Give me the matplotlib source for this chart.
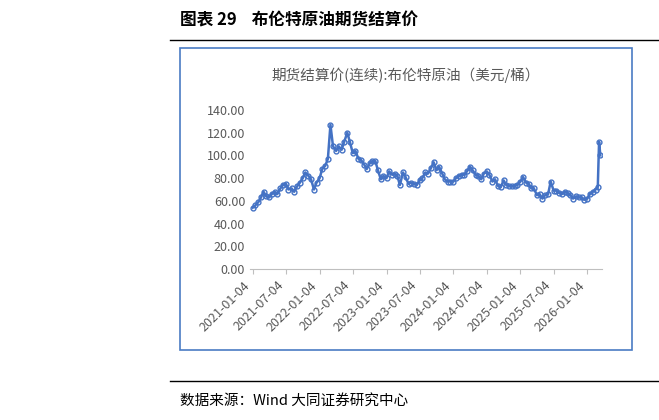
import matplotlib
matplotlib.use("Agg")
import matplotlib.pyplot as plt
import pandas as pd
from matplotlib.patches import Rectangle

plt.rcParams['font.family'] = ['Noto Sans CJK SC', 'DejaVu Sans']

vals = [54,56,59,63,68,64,63,66,68,66,71,74,75,70,71,68,73,76,80,85,82,79,70,76,
        80,88,91,97,127,108,104,108,105,112,120,112,102,104,97,96,92,88,93,95,95,87,79,82,
        80,86,83,84,82,74,85,81,75,76,75,74,78,80,85,84,89,94,87,90,84,79,77,77,
        77,80,82,83,83,86,90,87,83,82,79,84,86,83,77,79,73,72,78,74,73,73,73,74,
        77,81,76,75,71,71,65,66,62,65,66,77,69,69,67,66,68,67,65,62,64,63,63,61,
        62,66,68,70]
base = pd.date_range('2021-01-01', '2026-02-28', freq='SMS') + pd.Timedelta(days=3)
dates = list(base[:len(vals)])
extra_dates = pd.to_datetime(['2026-03-02', '2026-03-09', '2026-03-16'])
extra_vals = [72, 112, 100]
n = min(len(dates), len(vals))
dates = dates[:n] + list(extra_dates)
vals = vals[:n] + extra_vals
yticks = [0, 20, 40, 60, 80, 100, 120, 140]
xticks = pd.date_range('2021-01-01', '2026-01-04', freq='6MS') + pd.Timedelta(days=3)

W, H = 659, 420
fig = plt.figure(figsize=(W/100, H/100), dpi=100)

fig.text(180/W, 1-20/H, '图表 29    布伦特原油期货结算价', fontsize=12, fontweight='bold', va='center')
fig.add_artist(plt.Line2D([170/W, 1], [1-40/H, 1-40/H], color='black', lw=1))
fig.add_artist(plt.Line2D([170/W, 1], [1-381/H, 1-381/H], color='black', lw=1))
fig.text(180/W, 1-401/H, '数据来源：Wind 大同证券研究中心', fontsize=10.5, va='center')
fig.add_artist(Rectangle((180/W, 1-350/H), 452/W, 302/H, fill=False, ec='#4a7cc4', lw=1.2))
fig.text(406/W, 1-75/H, '期货结算价(连续):布伦特原油（美元/桶）', fontsize=10.5, color='#595959', ha='center', va='center')

ax = fig.add_axes([250/W, 1-269/H, 352/W, 159/H])
ax.plot(dates, vals, color='#4472c4', lw=1.8, marker='o', ms=3.5, mfc='none', mew=1)
ax.set_ylim(0, 140)
ax.set_yticks(yticks)
ax.set_yticklabels([f'{v:.2f}' for v in yticks], fontsize=9, color='#595959')
ax.set_xlim(pd.Timestamp('2020-12-20'), pd.Timestamp('2026-03-25'))
ax.set_xticks(xticks)
ax.set_xticklabels([d.strftime('%Y-%m-%d') for d in xticks], rotation=45, ha='right', fontsize=9, color='#595959')
for s in ['top', 'right', 'left']:
    ax.spines[s].set_visible(False)
ax.spines['bottom'].set_color('#bfbfbf')
ax.tick_params(axis='y', length=0)
ax.tick_params(axis='x', color='#bfbfbf')
fig.savefig('out.png', dpi=100)
